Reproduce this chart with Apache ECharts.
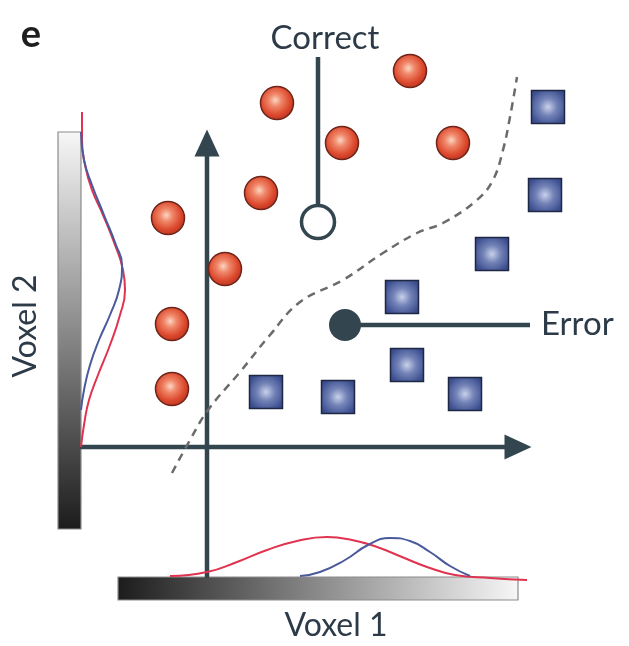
<!DOCTYPE html>
<html><head><meta charset="utf-8">
<script src="https://cdn.jsdelivr.net/npm/echarts@6/dist/echarts.min.js"></script>
<style>html,body{margin:0;padding:0;background:#fff}#c{width:629px;height:646px}</style>
</head><body><div id="c"></div>
<script>
// Class A samples (red circles)
const redX = [410, 277, 342, 453, 261, 168, 225, 172, 172];
const redY = [71, 103, 143, 143, 193, 218, 269, 324, 389];
// Class B samples (blue squares)
const blueX = [548, 545, 492, 402, 266, 338, 407, 465];
const blueY = [107, 195, 254, 297, 392, 397, 365, 394];
// Decision boundary (dashed)
const boundX = [172, 190, 208, 240, 270, 300, 343, 383, 417, 443, 477, 493, 503, 510, 517];
const boundY = [473, 440, 410, 372, 335, 302, 280, 253, 233, 223, 200, 180, 150, 117, 77];
// Marginal densities along voxel 2 (left)
const v2RedX = [82, 82, 85, 92, 103, 115, 123, 125, 120, 110, 98, 89, 84, 81];
const v2RedY = [112, 140, 165, 190, 215, 245, 270, 290, 315, 345, 375, 400, 425, 447];
const v2BlueX = [81, 84, 92, 104, 116, 122, 119, 110, 99, 90, 84, 81];
const v2BlueY = [132, 160, 185, 215, 245, 265, 290, 315, 340, 365, 390, 410];
// Marginal densities along voxel 1 (bottom)
const v1RedX = [170, 207, 237, 267, 297, 327, 352, 377, 402, 427, 455, 490, 527];
const v1RedY = [576, 572, 562, 550, 541, 537, 540, 547, 557, 567, 575, 578, 580];
const v1BlueX = [300, 320, 345, 368, 390, 410, 430, 450, 470];
const v1BlueY = [576, 572, 560, 545, 538, 541, 552, 566, 576];
// Highlighted samples
const correctPt = [318, 222];
const correctStemTop = [318, 57];
const errorPt = [345, 325];
const errorLineEnd = [530, 325];
// Axes
const yAxisArrow = [[207, 578], [207, 150]];
const xAxisArrow = [[80, 447], [515, 447]];
const arrowHeads = [[207, 143, 0], [518, 447, -90]];
// Gradient bars [x0, y0, x1, y1, direction]
const bars = [[58, 132, 81, 529, 0], [118, 577, 518, 600, 1]];

const zip = (a, b) => a.map((v, i) => [v, b[i]]);
const axisCol = '#33464f';
const textCol = '#2d3b48';
const font = 'Lato, "Open Sans", sans-serif';

const chart = echarts.init(document.getElementById('c'), null, {renderer: 'canvas'});
const redGrad = new echarts.graphic.RadialGradient(0.45, 0.42, 0.6, [
  {offset: 0, color: '#fad6c2'}, {offset: 0.3, color: '#f0876a'}, {offset: 0.7, color: '#dc4a2e'}, {offset: 1, color: '#b83220'}]);
const blueGrad = new echarts.graphic.RadialGradient(0.5, 0.5, 0.72, [
  {offset: 0, color: '#c9d1ea'}, {offset: 0.35, color: '#7484b8'}, {offset: 0.75, color: '#3f5192'}, {offset: 1, color: '#2e3f7a'}]);

const lineS = (data, color, width, extra) => Object.assign({
  type: 'line', data, symbol: 'none', silent: true, animation: false,
  lineStyle: {color, width}
}, extra || {});

chart.setOption({
  animation: false,
  grid: {left: 0, right: 0, top: 0, bottom: 0},
  xAxis: {type: 'value', min: 0, max: 629, show: false},
  yAxis: {type: 'value', min: 0, max: 646, inverse: true, show: false},
  series: [
    {
      type: 'custom', silent: true, z: 1,
      data: bars,
      renderItem: function (params, api) {
        const p0 = api.coord([api.value(0), api.value(1)]);
        const p1 = api.coord([api.value(2), api.value(3)]);
        const vertical = api.value(4) === 0;
        const g = vertical
          ? new echarts.graphic.LinearGradient(0, 0, 0, 1, [{offset: 0, color: '#f7f7f7'}, {offset: 0.5, color: '#8a8a8a'}, {offset: 1, color: '#1c1c1c'}])
          : new echarts.graphic.LinearGradient(0, 0, 1, 0, [{offset: 0, color: '#1c1c1c'}, {offset: 0.5, color: '#8a8a8a'}, {offset: 1, color: '#f7f7f7'}]);
        return {type: 'rect', shape: {x: p0[0], y: p0[1], width: p1[0] - p0[0], height: p1[1] - p0[1]},
          style: {fill: g, stroke: '#8c8c8c', lineWidth: 1.2}};
      }
    },
    lineS(yAxisArrow, axisCol, 4.5, {z: 3}),
    lineS(xAxisArrow, axisCol, 4.5, {z: 3}),
    {
      type: 'scatter', silent: true, z: 3, animation: false,
      data: arrowHeads.map(a => ({value: [a[0], a[1]], symbolRotate: a[2]})),
      symbol: 'triangle', symbolSize: [25, 27],
      itemStyle: {color: axisCol, opacity: 1}
    },
    lineS(zip(boundX, boundY), '#6b6b6b', 2.5, {smooth: 0.4, z: 4, lineStyle: {color: '#6b6b6b', width: 2.5, type: [8, 6]}}),
    lineS(zip(v2RedX, v2RedY), '#e0334f', 2, {smooth: 0.5, z: 5}),
    lineS(zip(v2BlueX, v2BlueY), '#4b5a9c', 2, {smooth: 0.5, z: 5}),
    lineS(zip(v1RedX, v1RedY), '#e0334f', 2, {smooth: 0.5, z: 5}),
    lineS(zip(v1BlueX, v1BlueY), '#4b5a9c', 2, {smooth: 0.5, z: 5}),
    lineS([correctStemTop, [correctPt[0], correctPt[1] - 10]], axisCol, 4.5, {z: 6}),
    lineS([errorPt, errorLineEnd], axisCol, 4.5, {z: 6}),
    {
      type: 'scatter', silent: true, z: 8, animation: false,
      data: zip(redX, redY), symbol: 'circle', symbolSize: 33,
      itemStyle: {color: redGrad, borderColor: '#6e2418', borderWidth: 1.5, opacity: 1}
    },
    {
      type: 'scatter', silent: true, z: 8, animation: false,
      data: zip(blueX, blueY), symbol: 'rect', symbolSize: 33,
      itemStyle: {color: blueGrad, borderColor: '#1f2842', borderWidth: 1.5, opacity: 1}
    },
    {
      type: 'scatter', silent: true, z: 9, animation: false,
      data: [correctPt], symbol: 'circle', symbolSize: 33,
      itemStyle: {color: '#ffffff', borderColor: axisCol, borderWidth: 3.5, opacity: 1}
    },
    {
      type: 'scatter', silent: true, z: 9, animation: false,
      data: [errorPt], symbol: 'circle', symbolSize: 32,
      itemStyle: {color: axisCol, opacity: 1}
    }
  ],
  graphic: [
    {type: 'text', x: 31, y: 35, style: {text: 'e', font: 'bold 38px ' + font, fill: '#1e1e1e', align: 'center', verticalAlign: 'middle'}},
    {type: 'text', x: 325, y: 38, style: {text: 'Correct', font: '33px ' + font, fill: textCol, align: 'center', verticalAlign: 'middle'}},
    {type: 'text', x: 541, y: 324, style: {text: 'Error', font: '33px ' + font, fill: textCol, align: 'left', verticalAlign: 'middle'}},
    {type: 'text', x: 336, y: 626, style: {text: 'Voxel 1', font: '32px ' + font, fill: textCol, align: 'center', verticalAlign: 'middle'}},
    {type: 'text', x: 26, y: 326, rotation: Math.PI / 2, style: {text: 'Voxel 2', font: '32px ' + font, fill: textCol, align: 'center', verticalAlign: 'middle'}}
  ]
});
</script></body></html>
